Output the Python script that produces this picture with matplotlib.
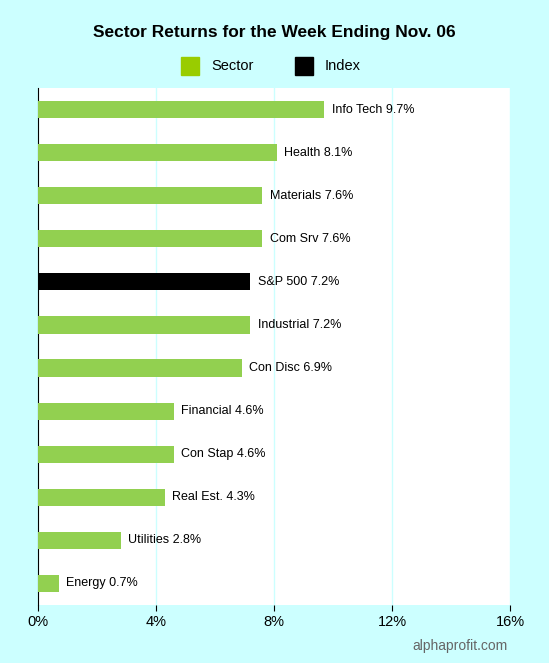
import matplotlib
matplotlib.use("Agg")
import matplotlib.pyplot as plt
from matplotlib.patches import Rectangle

sectors = ["Info Tech", "Health", "Materials", "Com Srv", "S&P 500", "Industrial",
           "Con Disc", "Financial", "Con Stap", "Real Est.", "Utilities", "Energy"]
returns = [9.7, 8.1, 7.6, 7.6, 7.2, 7.2, 6.9, 4.6, 4.6, 4.3, 2.8, 0.7]
is_index = [False, False, False, False, True, False, False, False, False, False, False, False]
xticks = [0, 4, 8, 12, 16]

BG = "#CCFFFF"
GREEN = "#92D050"

fig = plt.figure(figsize=(5.49, 6.63), dpi=100, facecolor=BG)
ax = fig.add_axes([38 / 549, 1 - 605 / 663, 472 / 549, 517 / 663])
ax.set_facecolor("white")

y = list(range(len(sectors)))[::-1]
colors = ["black" if idx else GREEN for idx in is_index]
ax.barh(y, returns, height=0.4, color=colors, zorder=3)
for yi, name, v in zip(y, sectors, returns):
    ax.text(v + 0.25, yi, f"{name} {v}%", va="center", ha="left", fontsize=9, family="Liberation Sans")

ax.set_xlim(0, 16)
ax.set_ylim(-0.5, len(sectors) - 0.5)
ax.set_xticks(xticks)
ax.set_xticklabels([f"{t}%" for t in xticks], fontsize=10.5, family="Liberation Sans")
ax.set_yticks([])
ax.tick_params(axis="x", length=4, color="black")
ax.grid(axis="x", color=BG, linewidth=1, zorder=0)
for s in ["top", "right"]:
    ax.spines[s].set_visible(False)
ax.spines["bottom"].set_visible(False)
ax.spines["left"].set_color("black")

fig.text(0.5, 1 - 32 / 663, "Sector Returns for the Week Ending Nov. 06", ha="center", va="center",
         fontsize=12.5, fontweight="bold", family="Liberation Sans")
fig.patches.append(Rectangle((181 / 549, 1 - 75 / 663), 18 / 549, 18 / 663, color="#99CC00",
                             transform=fig.transFigure, figure=fig))
fig.text(211 / 549, 1 - 66 / 663, "Sector", va="center", fontsize=10.5, family="Liberation Sans")
fig.patches.append(Rectangle((295 / 549, 1 - 75 / 663), 18 / 549, 18 / 663, color="black",
                             transform=fig.transFigure, figure=fig))
fig.text(325 / 549, 1 - 66 / 663, "Index", va="center", fontsize=10.5, family="Liberation Sans")
fig.text(508 / 549, 1 - 646 / 663, "alphaprofit.com", ha="right", va="center", fontsize=10,
         color="#666666", family="Liberation Sans")

fig.savefig("out.png", dpi=100, facecolor=BG)
